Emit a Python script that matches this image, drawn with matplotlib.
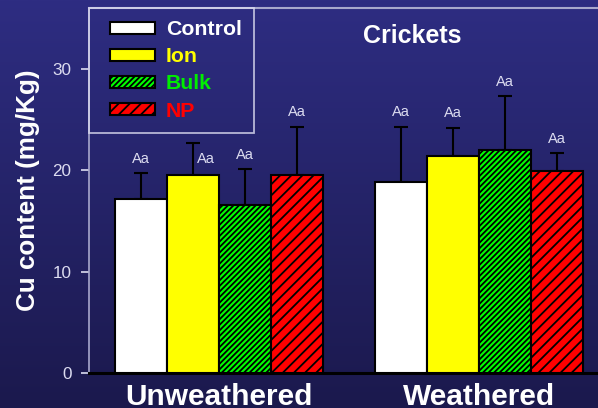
import numpy as np
import matplotlib
matplotlib.use("Agg")
import matplotlib.pyplot as plt
from matplotlib.patches import Rectangle
from matplotlib.legend_handler import HandlerPatch
from matplotlib.container import BarContainer

plt.rcParams['font.family'] = ['Liberation Sans', 'DejaVu Sans']
plt.rcParams['hatch.linewidth'] = 1.3

groups = ["Unweathered", "Weathered"]
treatments = ["Control", "Ion", "Bulk", "NP"]
# Cu content (mg/Kg) per treatment, one value per group
means = {
    "Control": [17.2, 18.8],
    "Ion": [19.5, 21.4],
    "Bulk": [16.6, 22.0],
    "NP": [19.5, 19.9],
}
errors = {
    "Control": [2.5, 5.5],
    "Ion": [3.2, 2.8],
    "Bulk": [3.5, 5.3],
    "NP": [4.8, 1.8],
}
letters = {
    "Control": ["Aa", "Aa"],
    "Ion": ["Aa", "Aa"],
    "Bulk": ["Aa", "Aa"],
    "NP": ["Aa", "Aa"],
}

fills = {"Control": "white", "Ion": "#ffff00", "Bulk": "#00ff00", "NP": "#ff0000"}
hatches = {"Control": None, "Ion": None, "Bulk": "//////", "NP": "///"}
text_cols = {"Control": "white", "Ion": "#ffff00", "Bulk": "#00ee00", "NP": "#ff0000"}
light = "#dcdcf0"


def inset_box(legend, orig_handle, xdescent, ydescent, width, height, fontsize):
    # legend swatch with some extra room on its left
    gap = 6.3
    return Rectangle((-xdescent + gap, -ydescent), width - gap, height)


def from_first_bar(handle, orig):
    handle.update_from(orig.patches[0])


fig = plt.figure(figsize=(5.98, 4.08), dpi=100)

# blue gradient backdrop
bg = fig.add_axes([0, 0, 1, 1], zorder=0)
grad = np.linspace(0, 1, 256).reshape(-1, 1)
top = np.array([0x2e, 0x2d, 0x82]) / 255
bot = np.array([0x1b, 0x19, 0x4d]) / 255
img = top + (bot - top) * grad[..., None]
bg.imshow(img, aspect="auto", extent=[0, 1, 0, 1])
bg.axis("off")

ax = fig.add_axes([0.1488, 0.0858, 0.8512, 0.8946], zorder=1)
ax.patch.set_alpha(0)

x = np.arange(len(groups))
w = 0.2
for i, t in enumerate(treatments):
    pos = x + (i - 1.5) * w
    ax.bar(pos, means[t], w, color=fills[t], edgecolor="black",
           linewidth=1.5, hatch=hatches[t], label=t, zorder=3)
    ax.errorbar(pos, means[t], yerr=[np.zeros(len(groups)), errors[t]],
                fmt="none", ecolor="black", elinewidth=1.5, capsize=5,
                capthick=1.5, zorder=2)
    for j in range(len(groups)):
        if t == "Ion" and j == 0:
            # shifted off the error bar, sits under the legend box
            ax.annotate(letters[t][j], (pos[j], means[t][j]),
                        xytext=(9.5, 8.5), textcoords="offset points",
                        ha="center", va="baseline", color=light, fontsize=10.5)
        else:
            ax.annotate(letters[t][j], (pos[j], means[t][j] + errors[t][j]),
                        xytext=(0, 7.5), textcoords="offset points",
                        ha="center", va="baseline", color=light, fontsize=10.5)

ax.set_xlim(-0.5, 1.458)
ax.set_ylim(0, 36)
ax.set_yticks([0, 10, 20, 30])
ax.set_xticks(x)
ax.set_xticklabels(groups, fontsize=21.5, fontweight="bold", color="white")
ax.tick_params(axis="x", length=0, pad=7)
ax.tick_params(axis="y", colors=light, labelsize=12.3, length=6, width=1.2,
               direction="out", pad=6.5)
ax.spines["right"].set_visible(False)
ax.spines["top"].set_color("#a8a8cc")
ax.spines["top"].set_linewidth(1.5)
ax.spines["left"].set_color("#a8a8cc")
ax.spines["left"].set_linewidth(1.2)
ax.spines["bottom"].set_color("black")
ax.spines["bottom"].set_linewidth(2.2)

ax.set_ylabel("Cu content (mg/Kg)", fontsize=18.7, fontweight="bold",
              color="white", labelpad=9)
ax.text(0.635, 0.955, "Crickets", transform=ax.transAxes, ha="center",
        va="top", fontsize=18, fontweight="bold", color="white")

swatch = HandlerPatch(patch_func=inset_box, update_func=from_first_bar)
leg = ax.legend(loc="upper left", bbox_to_anchor=(0, 1), borderaxespad=0,
                frameon=True, fancybox=False,
                prop={"weight": "bold", "size": 15.3},
                handler_map={BarContainer: swatch},
                handlelength=2.53, handleheight=0.47, handletextpad=0.52,
                labelspacing=0.38, borderpad=0.58)
leg.get_frame().set_facecolor("none")
leg.get_frame().set_edgecolor(light)
leg.get_frame().set_linewidth(1.3)
for txt, t in zip(leg.get_texts(), treatments):
    txt.set_color(text_cols[t])

fig.savefig("out.png", dpi=100)
